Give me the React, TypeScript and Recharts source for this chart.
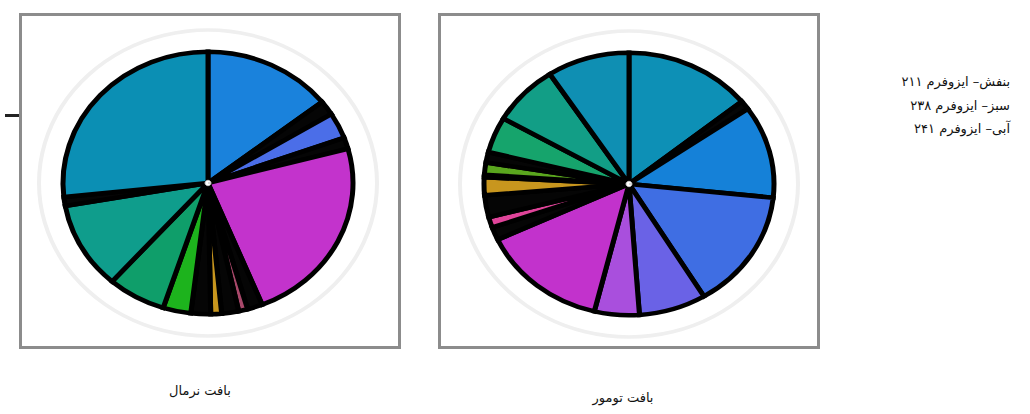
import React from 'react';
import { PieChart, Pie, Cell } from 'recharts';

// normal tissue isoform shares (%), clockwise from 12 o'clock
const normalNames = ['n1', 'n2', 'n3', 'n4', 'n5', 'n6', 'n7', 'n8', 'n9', 'n10', 'n11', 'n12', 'n13', 'n14', 'n15'];
const normalValues = [14.4, 1.8, 3.2, 1.4, 23.1, 1.7, 1.0, 1.9, 1.2, 2.2, 3.1, 6.5, 10.7, 1.1, 26.7];
const normalColors = [
  '#1a82dc', '#050505', '#4b6ee8', '#050505', '#c333cc', '#050505', '#a8486a', '#050505',
  '#c8961e', '#050505', '#1db31d', '#0f9e6a', '#0f9d8c', '#050505', '#0b8fb4',
];

// tumor tissue isoform shares (%), clockwise from 12 o'clock
const tumorNames = ['t1', 't2', 't3', 't4', 't5', 't6', 't7', 't8', 't9', 't10', 't11', 't12', 't13', 't14', 't15', 't16', 't17'];
const tumorValues = [14.2, 1.1, 11.4, 14.7, 7.5, 5.0, 14.2, 1.6, 1.3, 2.7, 2.2, 0.3, 1.5, 1.3, 4.4, 7.5, 9.2];
const tumorColors = [
  '#0d90b6', '#050505', '#1581d8', '#3f6ee3', '#6a62e6', '#a94fdd', '#c232cc', '#050505', '#e0449a',
  '#050505', '#c8961e', '#050505', '#5aa61e', '#050505', '#16a46c', '#129e86', '#0f8fb3',
];

const panelLabels = ['بافت نرمال', 'بافت تومور'];
const legendLines = ['بنفش– ایزوفرم ۲۱۱', 'سبز– ایزوفرم ۲۳۸', 'آبی– ایزوفرم ۲۴۱'];

const ring = [{ name: 'ring', value: 1 }];

const textFont = '"DejaVu Serif", "DejaVu Sans", serif';

function IsoPie({ names, values, colors, left, top }: { names: string[]; values: number[]; colors: string[]; left: number; top: number }) {
  const data = names.map((name, i) => ({ name, value: values[i] }));
  return (
    <div style={{ position: 'absolute', left, top, width: 360, height: 360, transform: 'scaleY(0.905)', transformOrigin: 'center' }}>
      <PieChart width={360} height={360} margin={{ top: 0, right: 0, bottom: 0, left: 0 }}>
        <Pie data={ring} dataKey="value" cx={180} cy={180} innerRadius={167} outerRadius={171} fill="#efefef" stroke="none" isAnimationActive={false} />
        <Pie
          data={data}
          dataKey="value"
          cx={180}
          cy={180}
          outerRadius={145}
          startAngle={90}
          endAngle={-270}
          stroke="#000"
          strokeWidth={5}
          isAnimationActive={false}
        >
          {data.map((d, i) => (
            <Cell key={d.name} fill={colors[i]} />
          ))}
        </Pie>
        <Pie data={ring} dataKey="value" cx={180} cy={180} outerRadius={3} fill="#ffffff" stroke="#cccccc" strokeWidth={1} isAnimationActive={false} />
      </PieChart>
    </div>
  );
}

export default function App() {
  const boxStyle: React.CSSProperties = {
    position: 'absolute',
    top: 13,
    height: 330,
    border: '3px solid #8c8c8c',
    background: '#fff',
  };
  return (
    <div style={{ position: 'absolute', left: 0, top: 0, width: 1030, height: 414, background: '#fff', overflow: 'hidden' }}>
      <div style={{ position: 'absolute', left: 5, top: 114, width: 14, height: 3, background: '#222' }} />
      <div style={{ ...boxStyle, left: 19, width: 376 }} />
      <div style={{ ...boxStyle, left: 438, width: 376 }} />
      <IsoPie names={normalNames} values={normalValues} colors={normalColors} left={28} top={3} />
      <IsoPie names={tumorNames} values={tumorValues} colors={tumorColors} left={449} top={4} />
      <div style={{ position: 'absolute', right: 20, top: 70, width: 200, direction: 'rtl', textAlign: 'right', fontFamily: textFont, fontSize: 13, lineHeight: '23.5px', color: '#111' }}>
        {legendLines.map((t) => (
          <div key={t}>{t}</div>
        ))}
      </div>
      <div style={{ position: 'absolute', left: 100, width: 200, top: 383, direction: 'rtl', textAlign: 'center', fontFamily: textFont, fontSize: 13, color: '#111' }}>
        {panelLabels[0]}
      </div>
      <div style={{ position: 'absolute', left: 523, width: 200, top: 390, direction: 'rtl', textAlign: 'center', fontFamily: textFont, fontSize: 13, color: '#111' }}>
        {panelLabels[1]}
      </div>
    </div>
  );
}
